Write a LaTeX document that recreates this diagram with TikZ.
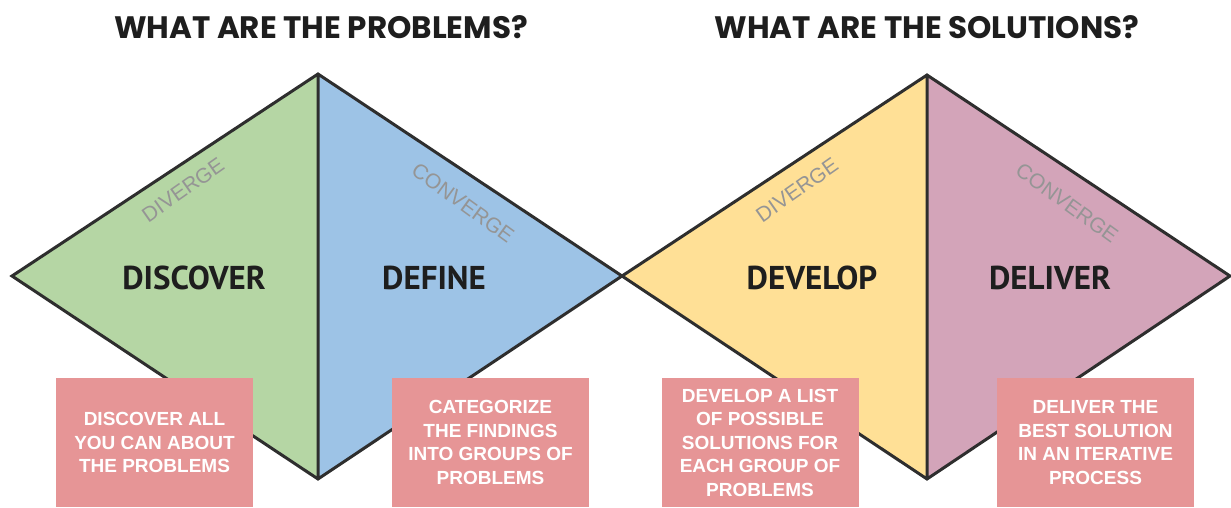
\documentclass[tikz,border=0pt]{standalone}
\usepackage{fontspec}
\setmainfont{Liberation Sans}
\newfontfamily\headfont{Poppins}
\newfontfamily\phasefont{PT Sans}

\definecolor{discovergreen}{HTML}{B5D6A4}
\definecolor{defineblue}{HTML}{9DC3E6}
\definecolor{developyellow}{HTML}{FFE096}
\definecolor{deliverpink}{HTML}{D3A4B9}
\definecolor{notered}{HTML}{E69596}
\definecolor{edgegray}{HTML}{2E2E2E}
\definecolor{modegray}{HTML}{959595}
\definecolor{ink}{HTML}{1E1E1E}

\begin{document}
\begin{tikzpicture}[x=1pt,y=-1pt,
    edge/.style={draw=edgegray,line width=3pt,line join=miter},
    heading/.style={font=\headfont\bfseries\fontsize{31}{31}\selectfont,text=ink},
    phase/.style={font=\phasefont\bfseries\fontsize{33}{33}\selectfont,text=ink},
    mode/.style={font=\fontsize{21}{21}\selectfont,text=modegray,inner sep=0pt},
    note/.style={fill=notered,text=white,align=center,inner sep=0pt,
      minimum width=197pt,minimum height=129pt,
      font=\bfseries\fontsize{19}{23.5}\selectfont}]
    \useasboundingbox[fill=white] (0,0) rectangle (1231,507);

    % corners of the two diamonds
    \coordinate (w) at (12,276);
    \coordinate (n1) at (318,74);
    \coordinate (s1) at (318,479);
    \coordinate (m) at (622,276);
    \coordinate (n2) at (927,75);
    \coordinate (s2) at (927,479);
    \coordinate (e) at (1230,276);

    \fill[discovergreen] (w) -- (n1) -- (s1) -- cycle;
    \fill[defineblue] (n1) -- (m) -- (s1) -- cycle;
    \fill[developyellow] (m) -- (n2) -- (s2) -- cycle;
    \fill[deliverpink] (n2) -- (e) -- (s2) -- cycle;

    \draw[edge] (w) -- (n1) -- (m) -- (s1) -- cycle (n1) -- (s1);
    \draw[edge] (m) -- (n2) -- (e) -- (s2) -- cycle (n2) -- (s2);

    \node[heading] (problems) at (321,27) {WHAT ARE THE PROBLEMS?};
    \node[heading] (solutions) at (927,27) {WHAT ARE THE SOLUTIONS?};

    \node[mode,rotate=35] (diverge1) at (183,190) {DIVERGE};
    \node[mode,rotate=-36] (converge1) at (463,203) {CONVERGE};
    \node[mode,rotate=35] (diverge2) at (797,190) {DIVERGE};
    \node[mode,rotate=-36] (converge2) at (1067,203) {CONVERGE};

    \node[phase] (discover) at (194,278) {DISCOVER};
    \node[phase] (define) at (434,278) {DEFINE};
    \node[phase] (develop) at (812,278) {DEVELOP};
    \node[phase] (deliver) at (1050,278) {DELIVER};

    \node[note] (discovernote) at (154.5,442.5) {DISCOVER ALL\\YOU CAN ABOUT\\THE PROBLEMS};
    \node[note] (definenote) at (490.5,442.5) {CATEGORIZE\\THE FINDINGS\\INTO GROUPS OF\\PROBLEMS};
    \node[note] (developnote) at (760,442.5) {DEVELOP A LIST\\OF POSSIBLE\\SOLUTIONS FOR\\EACH GROUP OF\\PROBLEMS};
    \node[note] (delivernote) at (1095.5,442.5) {DELIVER THE\\BEST SOLUTION\\IN AN ITERATIVE\\PROCESS};
\end{tikzpicture}
\end{document}
